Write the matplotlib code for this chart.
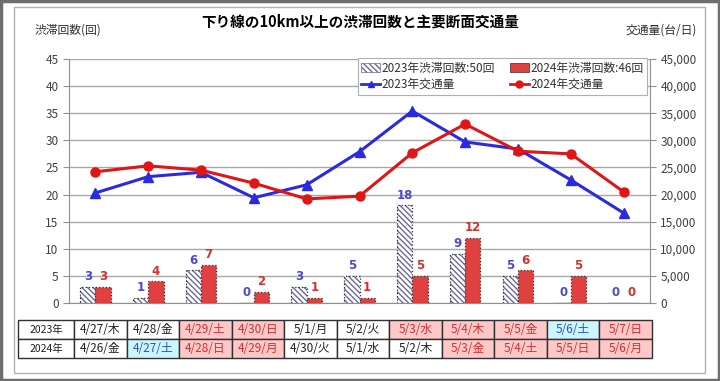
import numpy as np
import matplotlib.pyplot as plt
from matplotlib.patches import Rectangle
from matplotlib.lines import Line2D

plt.rcParams['font.family'] = ['Noto Sans CJK JP', 'DejaVu Sans']

# data
cnt_2023 = [3, 1, 6, 0, 3, 5, 18, 9, 5, 0, 0]
cnt_2024 = [3, 4, 7, 2, 1, 1, 5, 12, 6, 5, 0]
traffic_2023 = [20300, 23300, 24100, 19400, 21800, 27900, 35400, 29700, 28400, 22700, 16600]
traffic_2024 = [24200, 25300, 24500, 22100, 19200, 19700, 27700, 33000, 28000, 27500, 20500]
days_2023 = ['4/27/木', '4/28/金', '4/29/土', '4/30/日', '5/1/月', '5/2/火',
             '5/3/水', '5/4/木', '5/5/金', '5/6/土', '5/7/日']
days_2024 = ['4/26/金', '4/27/土', '4/28/日', '4/29/月', '4/30/火', '5/1/水',
             '5/2/木', '5/3/金', '5/4/土', '5/5/日', '5/6/月']
# day type: w = weekday, s = saturday, h = holiday
kind_2023 = ['w', 'w', 'h', 'h', 'w', 'w', 'h', 'h', 'h', 's', 'h']
kind_2024 = ['w', 's', 'h', 'h', 'w', 'w', 'w', 'h', 'h', 'h', 'h']

BLUE = '#2a2ae0'
RED = '#e01515'
LBL_BLUE = '#4a4ad0'
LBL_RED = '#d63030'
BAR_RED = '#e04040'

fig = plt.figure(figsize=(7.2, 3.81), dpi=100)

# frames
fig.patches.append(Rectangle((0.002, 0.003), 0.996, 0.994, transform=fig.transFigure,
                             fill=False, edgecolor='#6e6e6e', linewidth=2.5))
fig.patches.append(Rectangle((14/720, 1-373/381), 691/720, 366/381, transform=fig.transFigure,
                             fill=False, edgecolor='#b0b0b0', linewidth=1))

ax = fig.add_axes([69/720, 78/381, 581/720, 244/381])
ax2 = ax.twinx()

x = np.arange(len(cnt_2023))
w = 0.29

ax.bar(x - w/2, cnt_2023, w, color='white', edgecolor='#6a6a98', hatch='\\\\\\\\\\\\', linewidth=0, zorder=3)
ax.bar(x - w/2, cnt_2023, w, fill=False, edgecolor='#303030', linestyle=':', linewidth=0.9, zorder=3)
ax.bar(x + w/2, cnt_2024, w, color=BAR_RED, edgecolor='#303030', linestyle=':', linewidth=0.9, zorder=3)

for i in range(len(x)):
    ax.text(x[i] - w/2, cnt_2023[i] + 0.7, str(cnt_2023[i]), ha='center', va='bottom',
            color=LBL_BLUE, fontsize=8.5, fontweight='bold', family='DejaVu Sans')
    ax.text(x[i] + w/2, cnt_2024[i] + 0.7, str(cnt_2024[i]), ha='center', va='bottom',
            color=LBL_RED, fontsize=8.5, fontweight='bold', family='DejaVu Sans')

ax.set_ylim(0, 45)
ax.set_yticks(range(0, 46, 5))
ax.set_xlim(-0.5, len(x) - 0.5)
ax.set_xticks([])
ax.grid(axis='y', color='#a8a8a8', linewidth=1, zorder=0)
ax.set_axisbelow(True)
for s in ['top', 'right']:
    ax.spines[s].set_visible(False)
ax.spines['left'].set_color('#909090')
ax.spines['bottom'].set_color('#909090')
ax.tick_params(axis='y', colors='#909090', labelcolor='#404040', labelsize=8.5, length=4)

ax2.plot(x, traffic_2023, color=BLUE, marker='^', markersize=6.5, linewidth=2.2, zorder=4)
ax2.plot(x, traffic_2024, color=RED, marker='o', markersize=6.5, linewidth=2.2, zorder=4)
ax2.set_ylim(0, 45000)
ax2.set_yticks(range(0, 45001, 5000))
ax2.set_yticklabels([f'{v:,}' for v in range(0, 45001, 5000)])
for s in ['top', 'left', 'bottom']:
    ax2.spines[s].set_visible(False)
ax2.spines['right'].set_color('#909090')
ax2.tick_params(axis='y', colors='#909090', labelcolor='#404040', labelsize=8.5, length=4)

# legend
h_b23 = Rectangle((0, 0), 1, 1, facecolor='white', edgecolor='#6a6a98', hatch='\\\\\\\\\\\\', linewidth=0.5)
h_b24 = Rectangle((0, 0), 1, 1, facecolor=BAR_RED, edgecolor='#303030', linewidth=0.5)
h_l23 = Line2D([], [], color=BLUE, marker='^', markersize=5, linewidth=2)
h_l24 = Line2D([], [], color=RED, marker='o', markersize=5, linewidth=2)
leg = ax2.legend([h_b23, h_l23, h_b24, h_l24],
                 ['2023年渋滞回数:50回', '2023年交通量', '2024年渋滞回数:46回', '2024年交通量'],
                 ncol=2, loc='upper left', bbox_to_anchor=(0.497, 0.85, 0.498, 0.154),
                 mode='expand', fontsize=8.5, frameon=True, fancybox=False, framealpha=1,
                 edgecolor='#b0b0b0', handlelength=1.6, handletextpad=0.15,
                 borderaxespad=0, borderpad=0.3, labelspacing=0.3, columnspacing=1.0)
leg.get_frame().set_linewidth(0.8)
for t in leg.get_texts():
    t.set_color('#303030')

# titles
fig.text(0.5, 1 - 22/381, '下り線の10km以上の渋滞回数と主要断面交通量', ha='center', va='center',
         fontsize=10.5, fontweight='bold')
fig.text(35/720, 1 - 30/381, '渋滞回数(回)', ha='left', va='center', fontsize=8.5, color='#303030')
fig.text(697/720, 1 - 30/381, '交通量(台/日)', ha='right', va='center', fontsize=8.5, color='#303030')

# date table
tab_ax = fig.add_axes([18/720, 1 - 358/381, 634/720, 38/381])
tab_ax.axis('off')
fill = {'w': 'white', 's': '#ccf6ff', 'h': '#ffc8c8'}
tcol = {'w': '#202020', 's': '#3050c0', 'h': '#d03030'}
cells = [['2023年'] + days_2023, ['2024年'] + days_2024]
kinds = [['w'] + kind_2023, ['w'] + kind_2024]
colw = [56/634] + [52.5/634] * 11
tab = tab_ax.table(cellText=cells, cellColours=[[fill[k] for k in r] for r in kinds],
                   colWidths=colw, bbox=[0, 0, 1, 1], cellLoc='center')
tab.auto_set_font_size(False)
for (r, c), cell in tab.get_celld().items():
    k = kinds[r][c]
    cell.set_edgecolor('#303030')
    cell.set_linewidth(1)
    cell.get_text().set_color(tcol[k])
    cell.get_text().set_fontsize(8.5 if c else 7.5)

fig.savefig('out.png', dpi=100)
